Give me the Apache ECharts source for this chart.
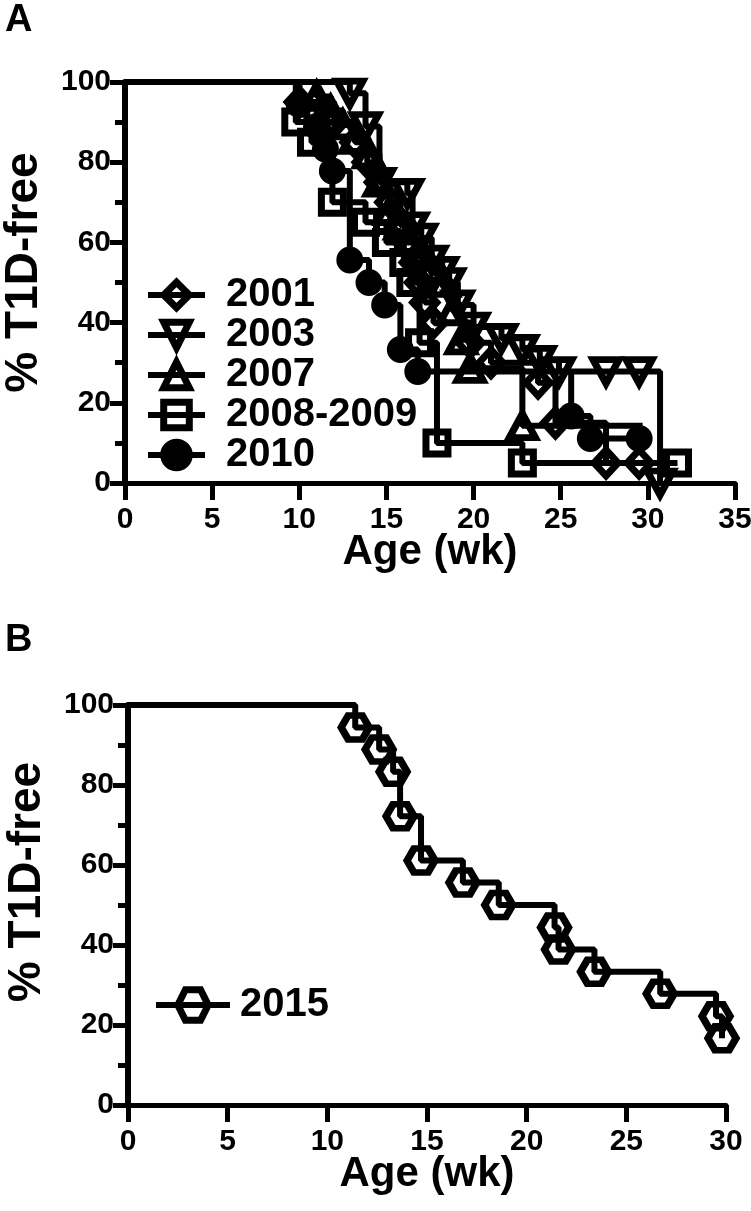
<!DOCTYPE html>
<html><head><meta charset="utf-8">
<script src="https://cdn.jsdelivr.net/npm/echarts@6/dist/echarts.min.js"></script>
<style>html,body{margin:0;padding:0;background:#fff}#c{width:751px;height:1211px}</style>
</head><body><div id="c"></div>
<script>
// ---------- data (time in weeks, % T1D-free) ----------
const namesA = ['2001', '2003', '2007', '2008-2009', '2010'];
const namesB = ['2015'];

const t2001 = [10.0, 12.0, 13.2, 13.9, 14.6, 15.2, 15.8, 16.2, 16.6, 16.9, 17.2, 17.7, 19.8, 21.0, 23.7, 24.7, 27.6, 29.5];
const s2001 = [95, 90, 85, 80, 75, 70, 65, 60, 55, 50, 45, 40, 35, 30, 25, 15, 5, 5];

const t2003 = [12.9, 13.8, 14.6, 16.2, 16.5, 17.0, 17.6, 18.2, 18.6, 19.1, 20.0, 21.6, 22.8, 23.8, 24.9, 27.6, 29.5, 30.7];
const s2003 = [97.2, 88.9, 75.0, 72.2, 63.9, 61.1, 55.6, 52.8, 50.0, 44.4, 38.9, 36.1, 33.3, 30.6, 27.8, 27.8, 27.8, 0];

const t2007 = [11.0, 11.8, 12.5, 13.2, 14.0, 14.6, 15.2, 15.8, 16.3, 17.0, 17.6, 18.3, 18.8, 19.3, 19.8, 22.8, 29.7];
const s2007 = [96.4, 92.9, 89.3, 85.7, 82.1, 75.0, 67.9, 64.3, 60.7, 57.1, 53.6, 50.0, 42.9, 35.7, 28.6, 14.3, 14.3];
const end2007NoMark = true; // last 2007 point is the end of the line, drawn without a symbol

const t2008 = [9.8, 10.7, 11.9, 13.8, 15.0, 16.0, 16.4, 16.9, 17.9, 22.8, 31.7];
const s2008 = [90, 85, 70, 65, 60, 55, 50, 35, 10, 5, 5];

const t2010 = [10.0, 11.0, 11.5, 11.9, 12.9, 14.0, 14.9, 15.8, 16.8, 25.6, 26.7, 29.5];
const s2010 = [94.4, 88.9, 83.3, 77.8, 55.6, 50.0, 44.4, 33.3, 27.8, 16.7, 11.1, 11.1];

const t2015 = [11.4, 12.6, 13.3, 13.65, 14.7, 16.8, 18.6, 21.4, 21.6, 23.4, 26.7, 29.5, 29.8];
const s2015 = [94.4, 88.9, 83.3, 72.2, 61.1, 55.6, 50.0, 44.4, 38.9, 33.3, 27.8, 22.2, 16.7];

const xMaxA = 35, xMaxB = 30, xStep = 5;
const yMax = 100, yStep = 20;
const xTitle = 'Age (wk)';
const yTitle = '% T1D-free';

// ---------- chart ----------
const FONT = '"Liberation Sans", Arial, Helvetica, sans-serif';
const HEX = 'path://M-1,0 L-0.5,-0.866 L0.5,-0.866 L1,0 L0.5,0.866 L-0.5,0.866 Z';
const LW = 6, BW = 7;

function kmData(ts, ss, hideLast) {
  const d = [{ value: [0, 100], symbol: 'none' }];
  ts.forEach((t, i) => {
    if (hideLast && i === ts.length - 1) d.push({ value: [t, ss[i]], symbol: 'none' });
    else d.push([t, ss[i]]);
  });
  return d;
}
function km(name, ts, ss, symbol, idx, extra, hideLast) {
  return Object.assign({
    type: 'line', name: name, xAxisIndex: idx, yAxisIndex: idx, step: 'end',
    data: kmData(ts, ss, hideLast), symbol: symbol, symbolSize: 22, showAllSymbol: true,
    lineStyle: { color: '#000', width: LW },
    itemStyle: { color: 'rgba(0,0,0,0)', borderColor: '#000', borderWidth: BW },
    emphasis: { disabled: true }, clip: false, animation: false
  }, extra || {});
}

function xAx(idx, max) {
  return {
    type: 'value', gridIndex: idx, min: 0, max: max, interval: xStep,
    name: xTitle, nameLocation: 'middle', nameGap: 48, nameMoveOverlap: false,
    nameTextStyle: { fontFamily: FONT, fontWeight: 'bold', fontSize: 42, color: '#000' },
    axisLine: { onZero: false, lineStyle: { color: '#000', width: 5 } },
    axisTick: { length: 17, lineStyle: { color: '#000', width: 5 } },
    axisLabel: { fontFamily: FONT, fontWeight: 'bold', fontSize: 30, color: '#000', margin: 22 },
    splitLine: { show: false }
  };
}
function yAx(idx, shift) {
  return {
    type: 'value', gridIndex: idx, min: 0, max: yMax, interval: yStep,
    name: yTitle, nameLocation: 'middle', nameGap: 78, nameRotate: 90, nameMoveOverlap: false,
    nameTextStyle: { fontFamily: FONT, fontWeight: 'bold', fontSize: 46, color: '#000', padding: [0, 0, 0, shift] },
    axisLine: { lineStyle: { color: '#000', width: 6 } },
    axisTick: { length: 15, lineStyle: { color: '#000', width: 5 } },
    minorTick: { show: true, splitNumber: 2, length: 10, lineStyle: { color: '#000', width: 5 } },
    axisLabel: { fontFamily: FONT, fontWeight: 'bold', fontSize: 30, color: '#000', margin: 14 },
    splitLine: { show: false }, minorSplitLine: { show: false }
  };
}
const legendText = { fontFamily: FONT, fontWeight: 'bold', fontSize: 40, color: '#000' };

const chart = echarts.init(document.getElementById('c'), null, { renderer: 'canvas' });
chart.setOption({
  animation: false,
  backgroundColor: '#fff',
  title: [
    { text: 'A', left: 0, top: -3, textStyle: { fontFamily: FONT, fontWeight: 'bold', fontSize: 38, color: '#000' } },
    { text: 'B', left: 0, top: 617, textStyle: { fontFamily: FONT, fontWeight: 'bold', fontSize: 38, color: '#000' } }
  ],
  grid: [
    { left: 125, top: 82, width: 610, height: 401, outerBoundsMode: 'none', containLabel: false },
    { left: 128, top: 705, width: 598, height: 400, outerBoundsMode: 'none', containLabel: false }
  ],
  xAxis: [xAx(0, xMaxA), xAx(1, xMaxB)],
  yAxis: [yAx(0, 20), yAx(1, 46)],
  legend: [
    { data: namesA, orient: 'vertical', left: 140, top: 270, itemWidth: 57, itemHeight: 32, itemGap: 0,
      selectedMode: false, textStyle: Object.assign({ padding: [0, 0, 0, 16] }, legendText),
      itemStyle: { borderColor: '#000', borderWidth: BW }, lineStyle: { color: '#000', width: LW } },
    { data: namesB, orient: 'vertical', left: 148, top: 980, itemWidth: 74, itemHeight: 38, itemGap: 0,
      selectedMode: false, textStyle: Object.assign({ padding: [0, 0, 0, 5] }, legendText),
      itemStyle: { borderColor: '#000', borderWidth: BW }, lineStyle: { color: '#000', width: LW } }
  ],
  series: [
    km(namesA[0], t2001, s2001, 'diamond', 0, { symbolSize: [24, 26] }),
    km(namesA[1], t2003, s2003, 'triangle', 0, { symbolRotate: 180, symbolSize: [26, 24] }),
    km(namesA[2], t2007, s2007, 'triangle', 0, { symbolSize: [26, 24] }, end2007NoMark),
    km(namesA[3], t2008, s2008, 'rect', 0),
    km(namesA[4], t2010, s2010, 'circle', 0, { itemStyle: { color: '#000', borderColor: '#000', borderWidth: 2 }, symbolSize: 25 }),
    km(namesB[0], t2015, s2015, HEX, 1, { symbolSize: [28, 24], itemStyle: { color: 'rgba(0,0,0,0)', borderColor: '#000', borderWidth: BW } })
  ]
});
</script>
</body></html>
